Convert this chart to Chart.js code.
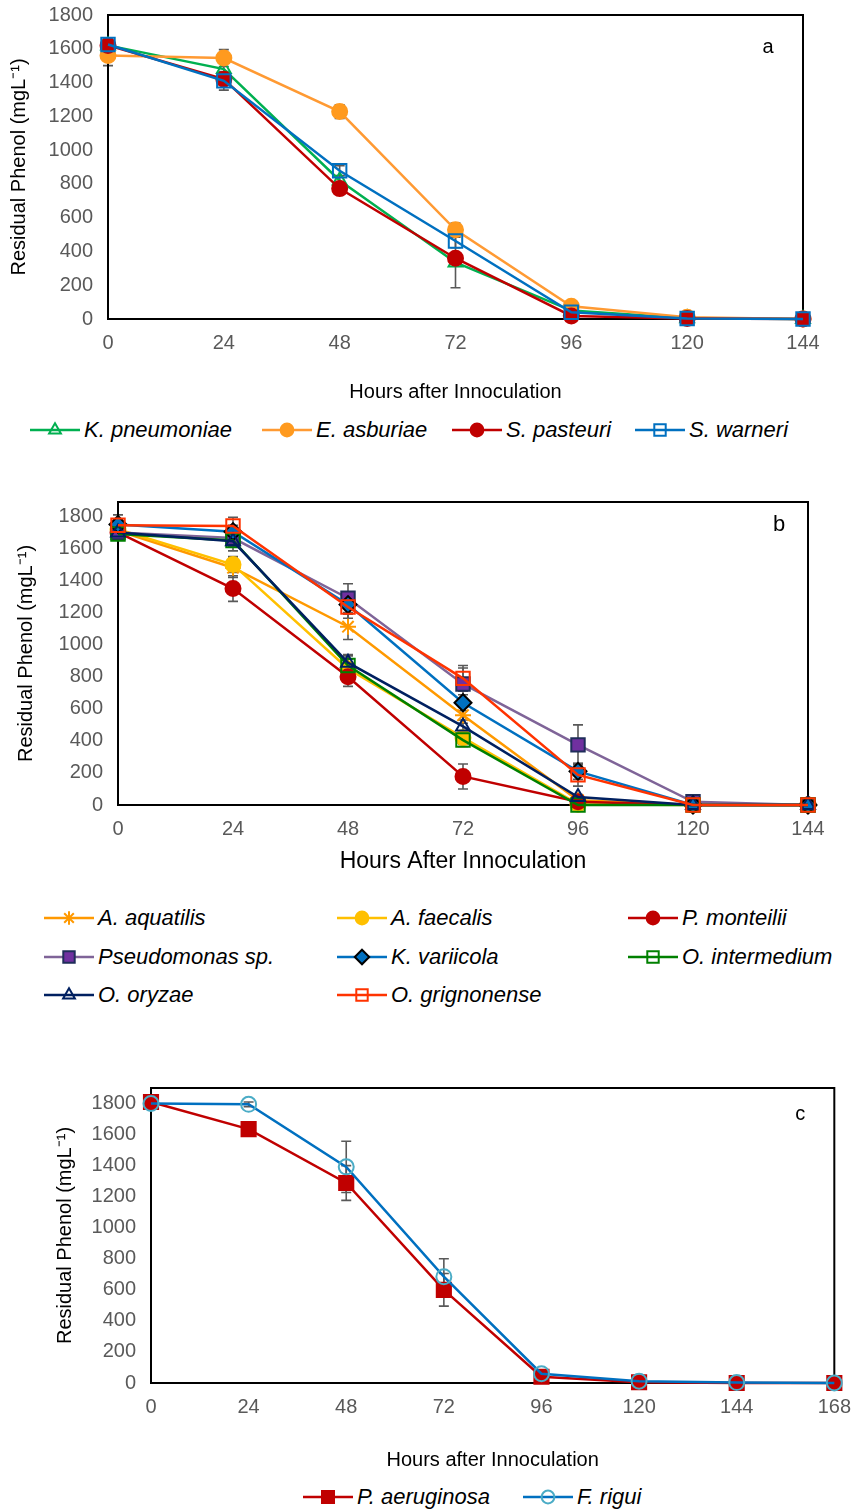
<!DOCTYPE html>
<html>
<head>
<meta charset="utf-8">
<script src="https://cdn.jsdelivr.net/npm/chart.js@4.4.1/dist/chart.umd.min.js"></script>
<style>
  body { margin: 0; background: #fff; width: 863px; height: 1509px; position: relative; overflow: hidden;
         font-family: "Liberation Sans", Arial, sans-serif; }
  canvas.plot { position: absolute; left: 0; }
  .leg { position: absolute; font-style: italic; font-size: 22px; line-height: 28px; color: #000; white-space: nowrap; }
  .sym { position: absolute; }
</style>
</head>
<body>
<canvas id="chartA" class="plot" width="863" height="423" style="top:-13px"></canvas>
<canvas id="chartB" class="plot" width="863" height="406" style="top:474px"></canvas>
<canvas id="chartC" class="plot" width="863" height="420" style="top:1060px"></canvas>

<script>
// ---- data ----
const hoursAB = [0, 24, 48, 72, 96, 120, 144];
const hoursC = [0, 24, 48, 72, 96, 120, 144, 168];
const phenolTicks = [0, 200, 400, 600, 800, 1000, 1200, 1400, 1600, 1800];

// panel a
const kPneumoniae = [1620, 1480, 820, 335, 50, 5, 0];
const eAsburiae = [1560, 1545, 1228, 528, 75, 10, 0];
const sPasteuri = [1620, 1420, 772, 360, 18, 3, 0];
const sWarneri = [1625, 1410, 878, 462, 40, 3, 0];
const kPneumoniaeErr = [40, 40, 30, 150, 15, 0, 0];
const eAsburiaeErr = [60, 50, 40, 40, 25, 0, 0];
const sPasteuriErr = [30, 30, 20, 20, 10, 0, 0];
const sWarneriErr = [30, 55, 30, 40, 15, 0, 0];

// panel b
const aAquatilis = [1710, 1480, 1112, 560, 30, 0, 0];
const aFaecalis = [1720, 1500, 850, 420, 5, 0, 0];
const pMonteilii = [1700, 1350, 800, 178, 20, 0, 0];
const pseudomonasSp = [1700, 1665, 1290, 755, 375, 20, 0];
const kVariicola = [1750, 1705, 1250, 638, 210, 0, 0];
const oIntermedium = [1690, 1650, 870, 405, 0, 0, 0];
const oOryzae = [1700, 1645, 888, 490, 50, 0, 0];
const oGrignonense = [1745, 1740, 1235, 790, 188, 0, 0];
const aAquatilisErr = [30, 60, 80, 50, 20, 0, 0];
const aFaecalisErr = [30, 50, 60, 40, 10, 0, 0];
const pMonteiliiErr = [30, 80, 60, 78, 10, 0, 0];
const pseudomonasSpErr = [40, 50, 90, 100, 125, 20, 0];
const kVariicolaErr = [60, 40, 60, 50, 50, 0, 0];
const oIntermediumErr = [30, 40, 60, 40, 10, 0, 0];
const oOryzaeErr = [30, 60, 50, 40, 15, 0, 0];
const oGrignonenseErr = [40, 55, 70, 80, 70, 0, 0];

// panel c
const pAeruginosa = [1810, 1635, 1288, 600, 40, 5, 0, 0];
const fRigui = [1800, 1795, 1392, 685, 60, 12, 3, 0];
const pAeruginosaErr = [20, 20, 112, 105, 15, 0, 0, 0];
const fRiguiErr = [10, 15, 165, 115, 20, 0, 0, 0];

const FONT = '"Liberation Sans", Arial, sans-serif';
const GRAY = '#595959';
const Y_TITLE = 'Residual Phenol (mgL\u207B\u00B9)';

// ---- plugins ----
const errorBars = {
    id: 'errorBars',
    beforeDatasetsDraw(chart) {
        const {ctx, scales: {x, y}} = chart;
        ctx.save();
        ctx.strokeStyle = GRAY;
        ctx.lineWidth = 1.6;
        chart.data.datasets.forEach(ds => {
            if (!ds.errors) return;
            ds.data.forEach((p, j) => {
                const e = ds.errors[j];
                if (!e) return;
                const px = x.getPixelForValue(p.x);
                const top = y.getPixelForValue(p.y + e);
                const bot = y.getPixelForValue(p.y - e);
                ctx.beginPath();
                ctx.moveTo(px, top); ctx.lineTo(px, bot);
                ctx.moveTo(px - 5, top); ctx.lineTo(px + 5, top);
                ctx.moveTo(px - 5, bot); ctx.lineTo(px + 5, bot);
                ctx.stroke();
            });
        });
        ctx.restore();
    },
};

const frame = {
    id: 'frame',
    beforeDatasetsDraw(chart, args, opts) {
        const {ctx, chartArea: a} = chart;
        ctx.save();
        ctx.strokeStyle = '#000';
        ctx.lineWidth = 2;
        ctx.strokeRect(a.left, a.top, a.right - a.left, a.bottom - a.top);
        ctx.fillStyle = '#000';
        ctx.font = opts.size + 'px ' + FONT;
        ctx.textAlign = 'center';
        ctx.textBaseline = 'middle';
        ctx.fillText(opts.text, a.right - opts.dx, a.top + opts.dy);
        ctx.restore();
    },
};

function buildChart(id, spec) {
    const n = spec.series.length;
    return new Chart(document.getElementById(id), {
        type: 'line',
        data: {
            datasets: spec.series.map((s, i) => ({
                label: s.label,
                data: s.values.map((v, j) => ({x: spec.hours[j], y: v})),
                errors: s.err,
                borderColor: s.line,
                borderWidth: 2.5,
                pointStyle: s.shape,
                pointRadius: s.r,
                pointBackgroundColor: s.fill,
                pointBorderColor: s.edge,
                pointBorderWidth: s.lw || 2,
                tension: 0,
                clip: false,
                order: n - i,
            })),
        },
        options: {
            responsive: false,
            animation: false,
            layout: {padding: {top: spec.padTop, right: spec.padRight, left: 0, bottom: 0}},
            plugins: {
                legend: {display: false},
                tooltip: {enabled: false},
                frame: spec.letter,
            },
            scales: {
                x: {
                    type: 'linear',
                    min: 0,
                    max: spec.hours[spec.hours.length - 1],
                    grid: {display: false, drawTicks: false},
                    border: {display: false},
                    afterBuildTicks: s => { s.ticks = spec.hours.map(v => ({value: v})); },
                    afterFit: s => { s.height = spec.xAxisH; },
                    ticks: {color: GRAY, font: {size: 20, family: FONT}, padding: 12, maxRotation: 0, autoSkip: false,
                            callback: v => String(v)},
                    title: {display: true, text: spec.xTitle, color: '#000',
                            font: {size: spec.xTitleSize, family: FONT}, padding: {top: 0, bottom: spec.xTitlePad}},
                },
                y: {
                    min: 0,
                    max: spec.yMax,
                    grid: {display: false, drawTicks: false},
                    border: {display: false},
                    afterBuildTicks: s => { s.ticks = phenolTicks.map(v => ({value: v})); },
                    afterFit: s => { s.width = spec.yAxisW; },
                    ticks: {color: GRAY, font: {size: 20, family: FONT}, padding: 15, callback: v => String(v)},
                    title: {display: true, text: Y_TITLE, color: '#000',
                            font: {size: 20, family: FONT}, padding: {top: spec.yTitlePad, bottom: 0}},
                },
            },
        },
        plugins: [errorBars, frame],
    });
}

const seriesA = [
    {label: 'K. pneumoniae', values: kPneumoniae, err: kPneumoniaeErr, line: '#00B050', shape: 'triangle', r: 8, fill: 'rgba(255,255,255,0)', edge: '#00B050'},
    {label: 'E. asburiae', values: eAsburiae, err: eAsburiaeErr, line: '#FF9A33', shape: 'circle', r: 7.5, fill: '#FF9A1F', edge: '#FF9A1F'},
    {label: 'S. pasteuri', values: sPasteuri, err: sPasteuriErr, line: '#C00000', shape: 'circle', r: 7.5, fill: '#C00000', edge: '#C00000'},
    {label: 'S. warneri', values: sWarneri, err: sWarneriErr, line: '#0070C0', shape: 'rect', r: 9.5, fill: 'rgba(255,255,255,0)', edge: '#0070C0'},
];

const seriesB = [
    {label: 'A. aquatilis', values: aAquatilis, err: aAquatilisErr, line: '#FF9900', shape: 'star', r: 8, fill: '#FF9900', edge: '#FF9900'},
    {label: 'A. faecalis', values: aFaecalis, err: aFaecalisErr, line: '#FFC000', shape: 'circle', r: 7.5, fill: '#FFC000', edge: '#FFC000'},
    {label: 'P. monteilii', values: pMonteilii, err: pMonteiliiErr, line: '#C00000', shape: 'circle', r: 7.5, fill: '#C00000', edge: '#C00000'},
    {label: 'Pseudomonas sp.', values: pseudomonasSp, err: pseudomonasSpErr, line: '#7F6498', shape: 'rect', r: 9.5, fill: '#7030A0', edge: '#1F2D5A'},
    {label: 'K. variicola', values: kVariicola, err: kVariicolaErr, line: '#0070C0', shape: 'rectRot', r: 8.5, fill: '#0070C0', edge: '#000000'},
    {label: 'O. intermedium', values: oIntermedium, err: oIntermediumErr, line: '#008000', shape: 'rect', r: 9.5, fill: 'rgba(255,255,255,0)', edge: '#008000'},
    {label: 'O. oryzae', values: oOryzae, err: oOryzaeErr, line: '#002060', shape: 'triangle', r: 8, fill: 'rgba(255,255,255,0)', edge: '#002060'},
    {label: 'O. grignonense', values: oGrignonense, err: oGrignonenseErr, line: '#FF3300', shape: 'rect', r: 9.5, fill: 'rgba(255,255,255,0)', edge: '#FF3300'},
];

const seriesC = [
    {label: 'P. aeruginosa', values: pAeruginosa, err: pAeruginosaErr, line: '#C00000', shape: 'rect', r: 10, fill: '#C00000', edge: '#C00000'},
    {label: 'F. rigui', values: fRigui, err: fRiguiErr, line: '#0070C0', shape: 'circle', r: 7.5, fill: 'rgba(255,255,255,0)', edge: '#4BACC6'},
];

buildChart('chartA', {
    series: seriesA, hours: hoursAB, yMax: 1800,
    padTop: 28, padRight: 60, yAxisW: 108, xAxisH: 91,
    xTitle: 'Hours after Innoculation', xTitleSize: 20, xTitlePad: 6, yTitlePad: 7,
    letter: {text: 'a', dx: 35, dy: 32, size: 20},
});
buildChart('chartB', {
    series: seriesB, hours: hoursAB, yMax: 1890,
    padTop: 28, padRight: 55, yAxisW: 118, xAxisH: 75,
    xTitle: 'Hours After Innoculation', xTitleSize: 23, xTitlePad: 5, yTitlePad: 14,
    letter: {text: 'b', dx: 29, dy: 23, size: 22},
});
buildChart('chartC', {
    series: seriesC, hours: hoursC, yMax: 1900,
    padTop: 28, padRight: 18, yAxisW: 151, xAxisH: 97,
    xTitle: 'Hours after Innoculation', xTitleSize: 20, xTitlePad: 8, yTitlePad: 53,
    letter: {text: 'c', dx: 34, dy: 26, size: 20},
});

// ---- legends (html, line + marker symbols) ----
function drawMarker(c, s, x, y, r) {
    c.beginPath();
    if (s.shape === 'circle') {
        c.arc(x, y, r, 0, Math.PI * 2);
    } else if (s.shape === 'rect') {
        const h = r * Math.SQRT1_2;
        c.rect(x - h, y - h, 2 * h, 2 * h);
    } else if (s.shape === 'triangle') {
        for (let k = 0; k < 3; k++) {
            const a = k * 2 * Math.PI / 3;
            c[k ? 'lineTo' : 'moveTo'](x + Math.sin(a) * r, y - Math.cos(a) * r);
        }
        c.closePath();
    } else if (s.shape === 'rectRot') {
        c.moveTo(x, y - r); c.lineTo(x + r, y); c.lineTo(x, y + r); c.lineTo(x - r, y); c.closePath();
    }
    if (s.shape === 'star') {
        for (let k = 0; k < 4; k++) {
            const a = k * Math.PI / 4;
            c.moveTo(x - Math.cos(a) * r, y - Math.sin(a) * r);
            c.lineTo(x + Math.cos(a) * r, y + Math.sin(a) * r);
        }
        c.strokeStyle = s.edge; c.lineWidth = 2; c.stroke();
        return;
    }
    c.fillStyle = s.fill; c.fill();
    c.strokeStyle = s.edge; c.lineWidth = 2; c.stroke();
}

function addLegend(series, spots) {
    series.forEach((s, i) => {
        const [x, y] = spots[i];
        const cv = document.createElement('canvas');
        cv.width = 50; cv.height = 26;
        cv.className = 'sym';
        cv.style.left = x + 'px';
        cv.style.top = (y - 13) + 'px';
        const c = cv.getContext('2d');
        c.strokeStyle = s.line; c.lineWidth = 2.5;
        c.beginPath(); c.moveTo(0, 13); c.lineTo(50, 13); c.stroke();
        drawMarker(c, s, 25, 13, s.r * 0.85);
        document.body.appendChild(cv);
        const t = document.createElement('div');
        t.className = 'leg';
        t.textContent = s.label;
        t.style.left = (x + 54) + 'px';
        t.style.top = (y - 14) + 'px';
        document.body.appendChild(t);
    });
}

addLegend(seriesA, [[30, 430], [262, 430], [452, 430], [635, 430]]);
addLegend(seriesB, [[44, 918], [337, 918], [628, 918],
                    [44, 957], [337, 957], [628, 957],
                    [44, 995], [337, 995]]);
addLegend(seriesC, [[303, 1497], [523, 1497]]);
</script>
</body>
</html>
